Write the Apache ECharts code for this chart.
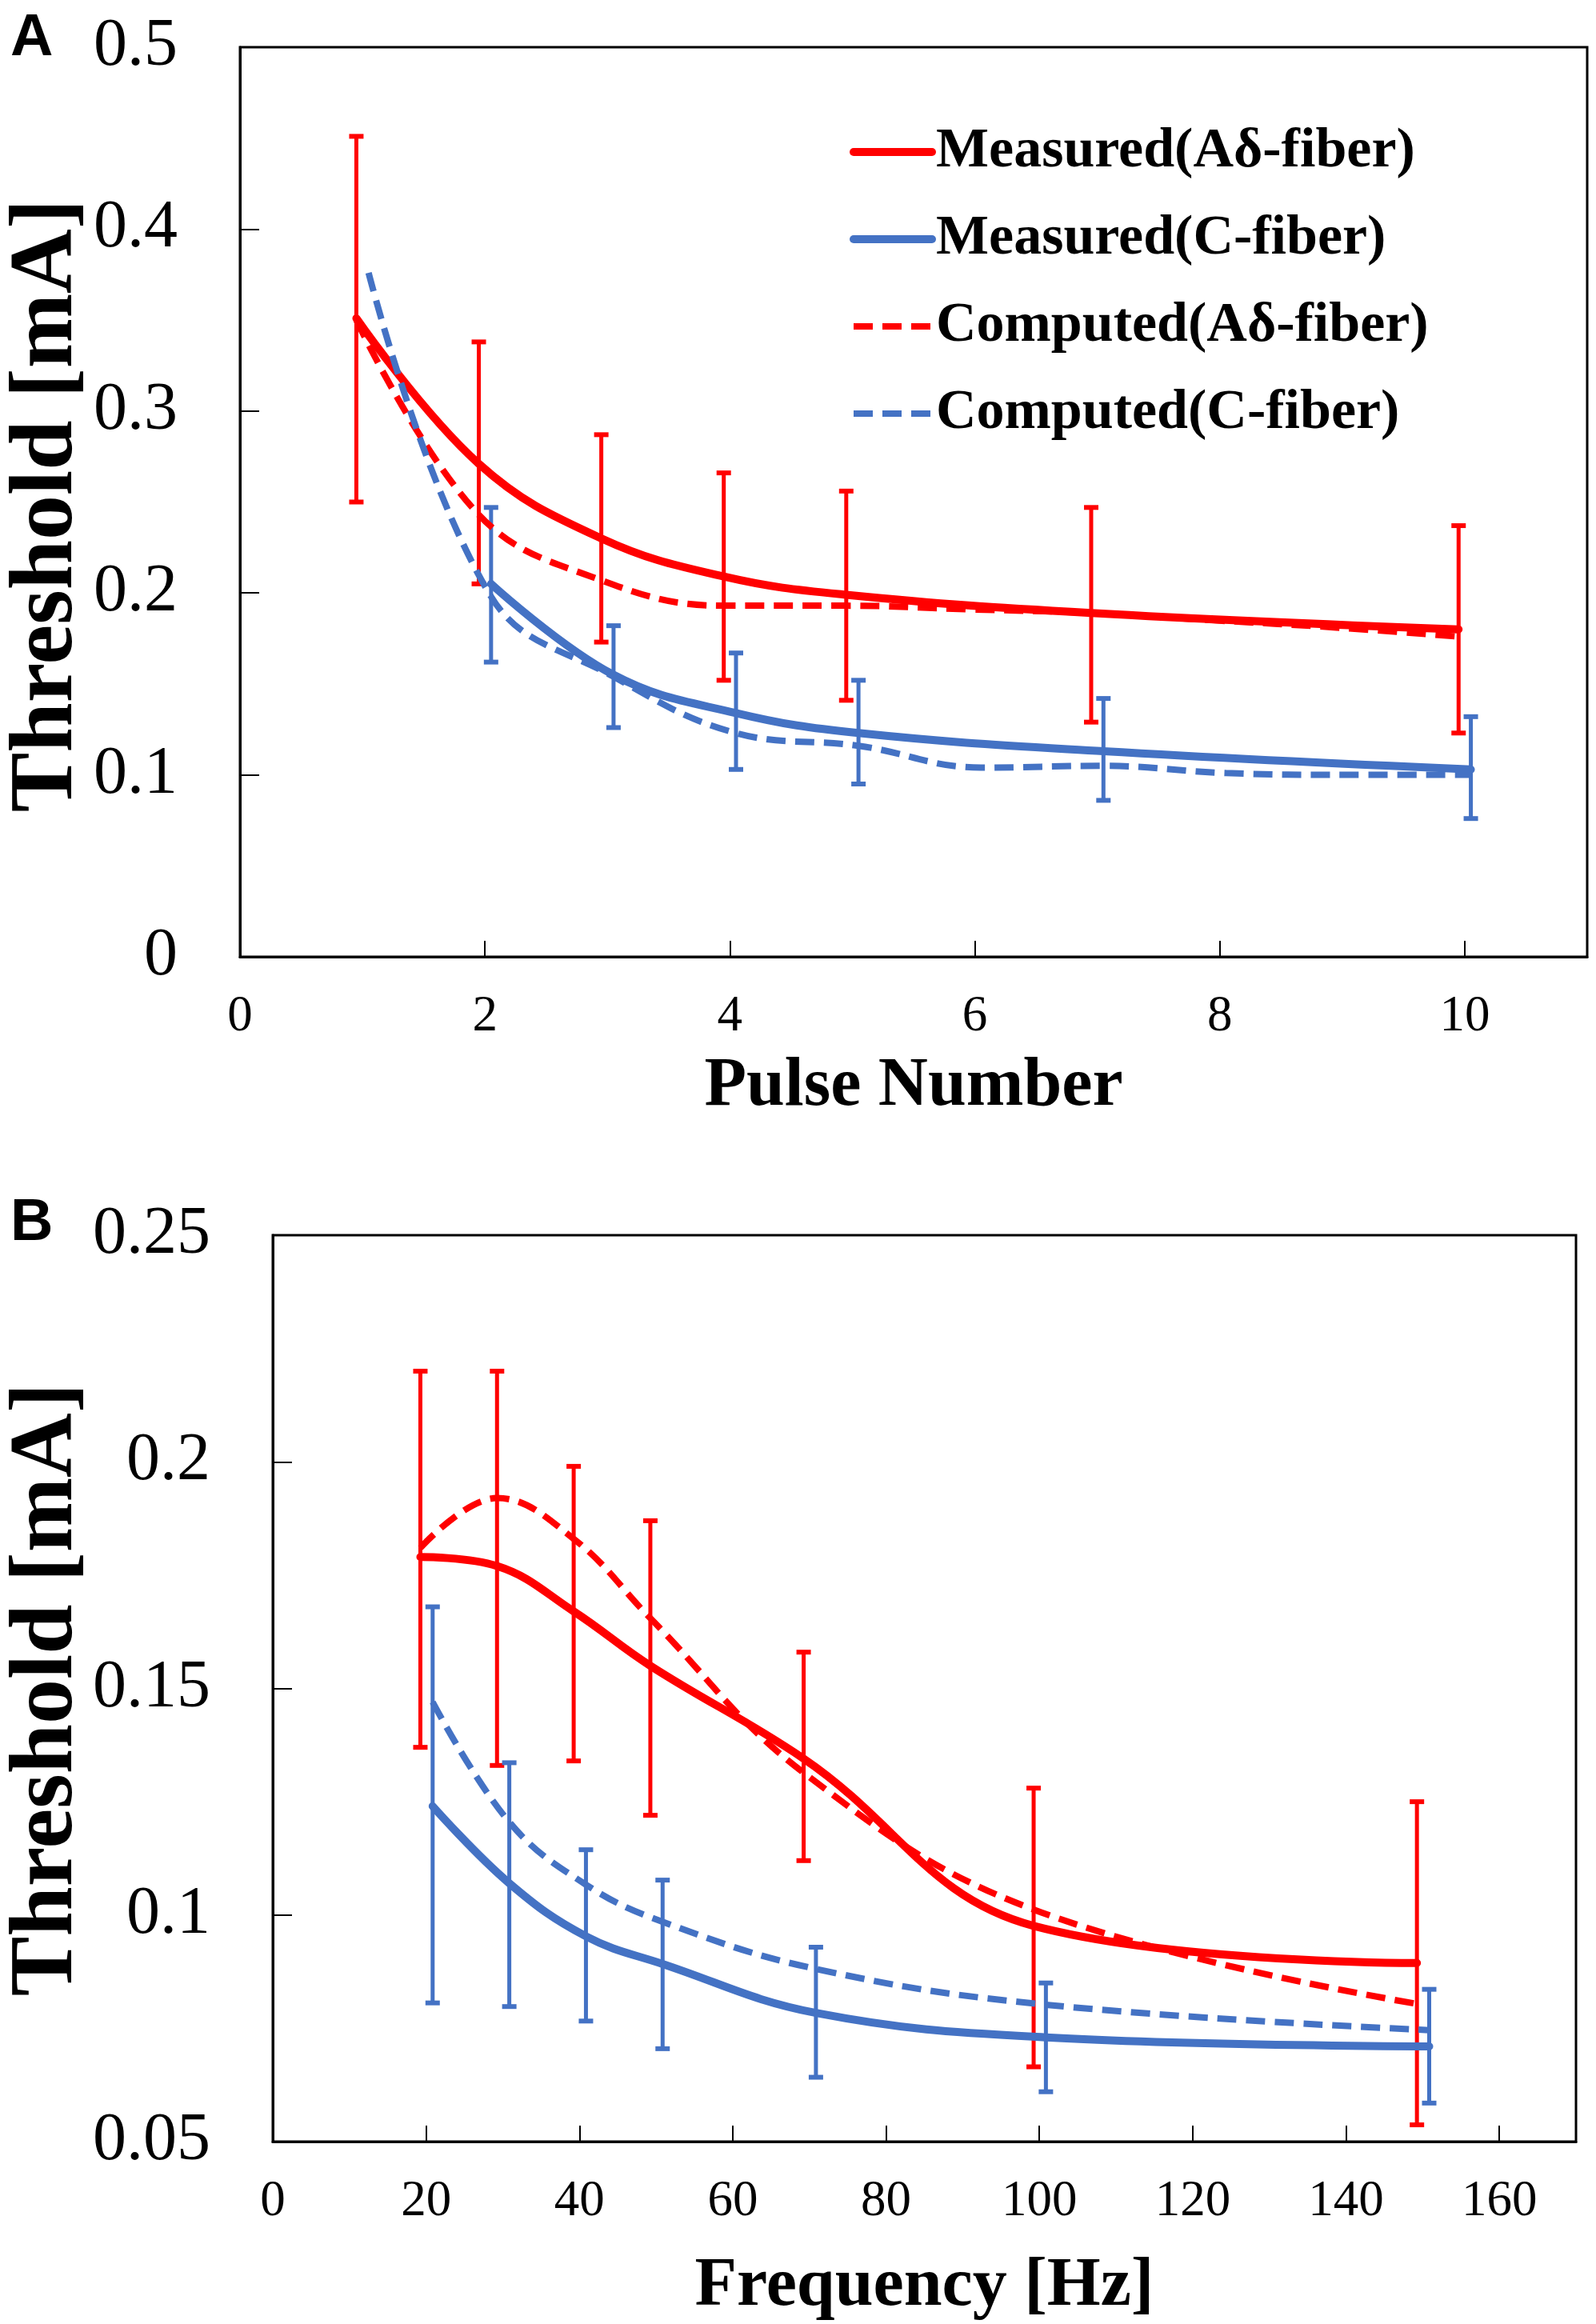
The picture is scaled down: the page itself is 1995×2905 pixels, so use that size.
<!DOCTYPE html>
<html>
<head>
<meta charset="utf-8">
<title>Threshold vs pulse number and frequency</title>
<script src="https://cdn.jsdelivr.net/npm/echarts@6.0.0/dist/echarts.min.js"></script>
<style>
  html, body { margin: 0; padding: 0; background: #fff; }
  #chart { width: 1995px; height: 2905px; }
</style>
</head>
<body>
<div id="chart"></div>
<script>
// ---- data ----
// panel A: threshold vs pulse number
const pulseMeasured = [1, 2, 3, 4, 5, 7, 10];
const pulseMeasuredC = [2, 3, 4, 5, 7, 10];
const pulseComputed = [1, 2, 3, 4, 5, 6, 7, 8, 9, 10];
const measuredAdA = [0.351, 0.271, 0.230, 0.209, 0.199, 0.189, 0.180];
const measuredAdLoA = [0.250, 0.205, 0.173, 0.152, 0.141, 0.129, 0.123];
const measuredAdHiA = [0.451, 0.338, 0.287, 0.266, 0.256, 0.247, 0.237];
const measuredCA = [0.205, 0.155, 0.134, 0.123, 0.113, 0.103];
const measuredCLoA = [0.162, 0.126, 0.103, 0.095, 0.086, 0.076];
const measuredCHiA = [0.247, 0.182, 0.167, 0.152, 0.142, 0.132];
const computedAdA = [0.350, 0.243, 0.207, 0.193, 0.193, 0.191, 0.189, 0.185, 0.181, 0.176];
const computedCA = [0.376, 0.198, 0.154, 0.123, 0.116, 0.104, 0.105, 0.101, 0.100, 0.100];

// panel B: threshold vs frequency
const freq = [20, 30, 40, 50, 70, 100, 150];
const measuredAdB = [0.179, 0.177, 0.167, 0.155, 0.1345, 0.0976, 0.0894];
const measuredAdLoB = [0.137, 0.133, 0.134, 0.122, 0.112, 0.0665, 0.0537];
const measuredAdHiB = [0.220, 0.220, 0.199, 0.187, 0.158, 0.128, 0.125];
const measuredCB = [0.124, 0.107, 0.0953, 0.0892, 0.0784, 0.073, 0.071];
const measuredCLoB = [0.0806, 0.0798, 0.0766, 0.0705, 0.0642, 0.061, 0.0585];
const measuredCHiB = [0.168, 0.1336, 0.1144, 0.1077, 0.0929, 0.085, 0.0836];
const computedAdB = [0.181, 0.192, 0.183, 0.1655, 0.1314, 0.1012, 0.0804];
const computedCB = [0.147, 0.1205, 0.1067, 0.0985, 0.0881, 0.0802, 0.0746];

const seriesNames = ['Measured(Aδ-fiber)', 'Measured(C-fiber)', 'Computed(Aδ-fiber)', 'Computed(C-fiber)'];
const yTitle = 'Threshold [mA]';

// ---- styling ----
const RED = '#ff0000';
const BLUE = '#4472c4';
const SERIF = "'Liberation Serif', 'Times New Roman', serif";
const SANS = "'Liberation Sans', Arial, sans-serif";
// excel nudges the two colours apart a little on x
const shiftA = { red: -0.05, blue: 0.05 };
const shiftB = { red: -0.75, blue: 0.85 };

const pairs = (xs, ys, dx) => xs.map((x, i) => [x + dx, ys[i]]);
const bars = (xs, lo, hi, dx) => xs.map((x, i) => [x + dx, lo[i], hi[i]]);

function renderErrorBar(params, api) {
  const x = api.value(0);
  const lo = api.coord([x, api.value(1)]);
  const hi = api.coord([x, api.value(2)]);
  const hw = 9;
  const stem = { stroke: api.visual('color'), lineWidth: 5 };
  const cap = { stroke: api.visual('color'), lineWidth: 6 };
  return {
    type: 'group',
    children: [
      { type: 'line', shape: { x1: lo[0], y1: lo[1], x2: hi[0], y2: hi[1] }, style: stem },
      { type: 'line', shape: { x1: lo[0] - hw, y1: lo[1], x2: lo[0] + hw, y2: lo[1] }, style: cap },
      { type: 'line', shape: { x1: hi[0] - hw, y1: hi[1], x2: hi[0] + hw, y2: hi[1] }, style: cap }
    ]
  };
}

const lineSeries = (name, idx, data, color, dashed) => ({
  name: name,
  type: 'line',
  xAxisIndex: idx,
  yAxisIndex: idx,
  data: data,
  smooth: 0.4,
  symbol: 'none',
  showSymbol: false,
  z: 3,
  itemStyle: { color: color },
  lineStyle: dashed
    ? { color: color, width: 8, type: [24, 12], cap: 'butt' }
    : { color: color, width: 10, cap: 'round' }
});

const errorSeries = (idx, data, color) => ({
  type: 'custom',
  xAxisIndex: idx,
  yAxisIndex: idx,
  data: data,
  renderItem: renderErrorBar,
  encode: { x: 0, y: [1, 2] },
  itemStyle: { color: color },
  z: 2
});

const yLabel = v => String(parseFloat(v.toFixed(3)));

const baseX = {
  type: 'value',
  axisLine: { show: true, lineStyle: { color: '#000', width: 3 } },
  axisTick: { show: true, inside: true, length: 20, lineStyle: { color: '#000', width: 2 } },
  splitLine: { show: false },
  nameLocation: 'middle',
  nameMoveOverlap: false,
  nameTextStyle: { fontFamily: SERIF, fontWeight: 'bold', fontSize: 86, color: '#000' }
};
const baseY = {
  type: 'value',
  axisLine: { show: true, lineStyle: { color: '#000', width: 3 } },
  axisTick: { show: true, inside: true, length: 24, lineStyle: { color: '#000', width: 2 } },
  splitLine: { show: false },
  axisLabel: { fontFamily: SERIF, fontSize: 84, color: '#000', margin: 78, formatter: yLabel }
};
const xLabel = limit => ({
  fontFamily: SERIF, fontSize: 63, color: '#000', margin: 44,
  formatter: v => (v > limit ? '' : String(v))
});
// rotated y titles placed by hand so they sit where the figure has them
const yTitleText = (x, y) => ({
  type: 'text', x: x, y: y, rotation: Math.PI / 2,
  style: { text: yTitle, fontFamily: SERIF, fontWeight: 'bold', fontSize: 112, fill: '#000',
    align: 'center', verticalAlign: 'middle' }
});
const panelTag = (text, top) => ({
  type: 'text', left: 13, top: top,
  style: { text: text, fontFamily: SANS, fontWeight: 'bold', fontSize: 74, fill: '#000' }
});

const option = {
  backgroundColor: '#fff',
  animation: false,
  grid: [
    { left: 300, top: 59, width: 1684, height: 1137, show: true, borderColor: '#000', borderWidth: 3, outerBoundsMode: 'none', containLabel: false },
    { left: 341, top: 1544, width: 1629, height: 1133, show: true, borderColor: '#000', borderWidth: 3, outerBoundsMode: 'none', containLabel: false }
  ],
  legend: {
    data: seriesNames,
    orient: 'vertical',
    left: 1057,
    top: 150,
    itemWidth: 98,
    itemHeight: 20,
    itemGap: 39,
    selectedMode: false,
    itemStyle: { opacity: 0 },
    lineStyle: { width: 'inherit' },
    textStyle: { fontFamily: SERIF, fontWeight: 'bold', fontSize: 70, lineHeight: 70, color: '#000' }
  },
  xAxis: [
    Object.assign({}, baseX, {
      gridIndex: 0, min: 0, max: 11, interval: 2,
      name: 'Pulse Number', nameGap: 120,
      axisLabel: xLabel(10)
    }),
    Object.assign({}, baseX, {
      gridIndex: 1, min: 0, max: 170, interval: 20,
      name: 'Frequency [Hz]', nameGap: 139,
      axisLabel: xLabel(160)
    })
  ],
  yAxis: [
    Object.assign({}, baseY, { gridIndex: 0, min: 0, max: 0.5, interval: 0.1 }),
    Object.assign({}, baseY, { gridIndex: 1, min: 0.05, max: 0.25, interval: 0.05 })
  ],
  graphic: [
    panelTag('A', 12),
    panelTag('B', 1493),
    yTitleText(60, 632),
    yTitleText(60, 2112)
  ],
  series: [
    // panel A
    errorSeries(0, bars(pulseMeasured, measuredAdLoA, measuredAdHiA, shiftA.red), RED),
    errorSeries(0, bars(pulseMeasuredC, measuredCLoA, measuredCHiA, shiftA.blue), BLUE),
    lineSeries(seriesNames[0], 0, pairs(pulseMeasured, measuredAdA, shiftA.red), RED, false),
    lineSeries(seriesNames[1], 0, pairs(pulseMeasuredC, measuredCA, shiftA.blue), BLUE, false),
    lineSeries(seriesNames[2], 0, pairs(pulseComputed, computedAdA, shiftA.red), RED, true),
    lineSeries(seriesNames[3], 0, pairs(pulseComputed, computedCA, shiftA.blue), BLUE, true),
    // panel B
    errorSeries(1, bars(freq, measuredAdLoB, measuredAdHiB, shiftB.red), RED),
    errorSeries(1, bars(freq, measuredCLoB, measuredCHiB, shiftB.blue), BLUE),
    lineSeries(seriesNames[0], 1, pairs(freq, measuredAdB, shiftB.red), RED, false),
    lineSeries(seriesNames[1], 1, pairs(freq, measuredCB, shiftB.blue), BLUE, false),
    lineSeries(seriesNames[2], 1, pairs(freq, computedAdB, shiftB.red), RED, true),
    lineSeries(seriesNames[3], 1, pairs(freq, computedCB, shiftB.blue), BLUE, true)
  ]
};

const initChart = () => {
  const chart = echarts.init(document.getElementById('chart'), null, { renderer: 'canvas' });
  chart.setOption(option);
};

window.addEventListener('load', initChart);
</script>
</body>
</html>
